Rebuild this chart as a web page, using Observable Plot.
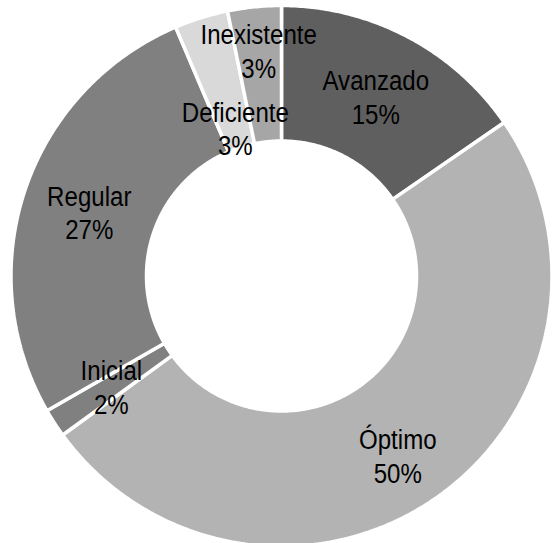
<!DOCTYPE html>
<html><head><meta charset="utf-8">
<script src="https://cdn.jsdelivr.net/npm/d3@7"></script>
<script src="https://cdn.jsdelivr.net/npm/@observablehq/plot@0.6"></script>
<style>body{margin:0;background:#fff}</style>
</head><body><div id="chart"></div>
<script>
const categories = ["Avanzado", "Óptimo", "Inicial", "Regular", "Deficiente", "Inexistente"];
const values = [15.4, 49.6, 1.7, 26.9, 3.2, 3.2];
const colors = ["#5f5f5f", "#b3b3b3", "#808080", "#808080", "#d9d9d9", "#a6a6a6"];

const W = 553, H = 543, cx = 281, cy = 275.5;
const R = 270.5, r = 135;
const total = d3.sum(values);
let acc = 0;
const slices = categories.map((c, i) => {
  const a0 = acc / total * 2 * Math.PI; acc += values[i];
  const a1 = acc / total * 2 * Math.PI;
  return {c, v: values[i], color: colors[i], a0, a1, frac: values[i] / total};
});
const pts = [];
for (const s of slices) {
  const n = Math.max(4, Math.ceil((s.a1 - s.a0) / (Math.PI / 360)));
  const ang = k => s.a0 + (s.a1 - s.a0) * k / n;
  for (let k = 0; k <= n; k++) pts.push({c: s.c, color: s.color, x: R * Math.sin(ang(k)), y: R * Math.cos(ang(k))});
  for (let k = n; k >= 0; k--) pts.push({c: s.c, color: s.color, x: r * Math.sin(ang(k)), y: r * Math.cos(ang(k))});
  pts.push({c: s.c, color: s.color, x: R * Math.sin(s.a0), y: R * Math.cos(s.a0)});
}
// label placement: mid-ring (large slices pushed slightly outward), runs of small slices staggered
const fmt = d3.format(".0%");
let runIdx = 0;
const labels = slices.map((s, i) => {
  const small = s.frac < 0.05;
  const prevSmall = i > 0 && slices[i - 1].frac < 0.05;
  const nextSmall = i < slices.length - 1 && slices[i + 1].frac < 0.05;
  let t = s.frac > 0.4 ? 0.58 : 0.5;
  if (small && (prevSmall || nextSmall)) { t = runIdx % 2 === 0 ? 0.15 : 0.68; runIdx++; } else runIdx = 0;
  const rr = r + (R - r) * t;
  const a = (s.a0 + s.a1) / 2 + (s.frac > 0.4 ? 0.04 : 0);
  return {text: s.c + "\n" + fmt(s.frac), x: rr * Math.sin(a), y: rr * Math.cos(a)};
});

const chart = Plot.plot({
  width: W, height: H, margin: 0,
  x: {domain: [-cx, W - cx], axis: null},
  y: {domain: [-(H - cy), cy], axis: null},
  color: {type: "identity"},
  marks: [
    Plot.line(pts, {x: "x", y: "y", z: "c", fill: "color", stroke: "white", strokeWidth: 3.5, strokeLinejoin: "miter"}),
    Plot.text(labels, {x: "x", y: "y", text: "text", fontSize: 28, lineHeight: 1.2, fill: "#000",
      fontFamily: "'Liberation Sans', Arial, sans-serif"})
  ]
});
// condensed look of the original typeface
d3.select(chart).selectAll("text").each(function() {
  const t = this.getAttribute("transform");
  if (t) this.setAttribute("transform", t + " scale(0.86,1)");
});
document.getElementById("chart").appendChild(chart);
</script>
</body></html>
